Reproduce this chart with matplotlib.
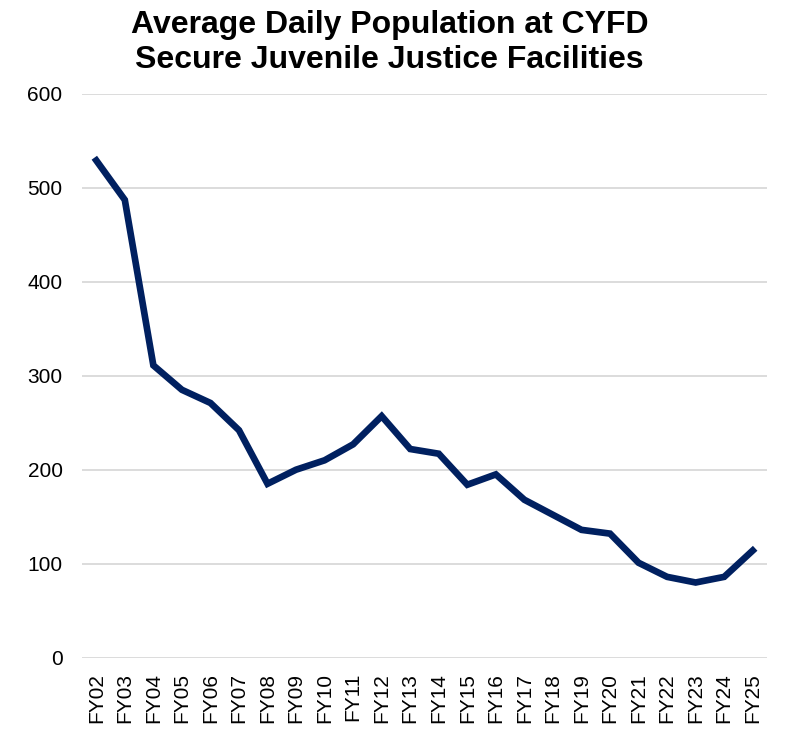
import numpy as np
import matplotlib.pyplot as plt

plt.rcParams['font.family'] = ['Liberation Sans', 'DejaVu Sans']

years = ['FY02', 'FY03', 'FY04', 'FY05', 'FY06', 'FY07', 'FY08', 'FY09',
         'FY10', 'FY11', 'FY12', 'FY13', 'FY14', 'FY15', 'FY16', 'FY17',
         'FY18', 'FY19', 'FY20', 'FY21', 'FY22', 'FY23', 'FY24', 'FY25']
population = [529, 487, 311, 285, 271, 242, 185, 200,
              210, 227, 257, 222, 217, 184, 195, 168,
              152, 136, 132, 101, 86, 80, 86, 114]
y_ticks = [0, 100, 200, 300, 400, 500, 600]

fig = plt.figure(figsize=(7.89, 7.30), dpi=100)
ax = fig.add_axes([82 / 789, 72.3 / 730, 685 / 789, 564 / 730])

x = np.arange(len(years))
ax.plot(x, population, color='#002060', linewidth=4.8, solid_joinstyle='miter', zorder=3)

ax.set_xlim(-0.5, len(years) - 0.5)
ax.set_ylim(0, 600)
ax.set_yticks(y_ticks)
ax.set_xticks(x)
ax.set_xticklabels(years, rotation=90)
ax.tick_params(axis='y', length=0, pad=14, labelsize=15)
ax.tick_params(axis='x', length=0, pad=11, labelsize=15)
ax.grid(axis='y', color='#d9d9d9', linewidth=1.3)
ax.set_axisbelow(True)
for s in ax.spines.values():
    s.set_visible(False)

fig.text(0.494, 1 - 9.5 / 730, 'Average Daily Population at CYFD\nSecure Juvenile Justice Facilities',
         ha='center', va='top', fontsize=23, fontweight='bold', linespacing=1.22)

fig.savefig('out.png', dpi=100)
